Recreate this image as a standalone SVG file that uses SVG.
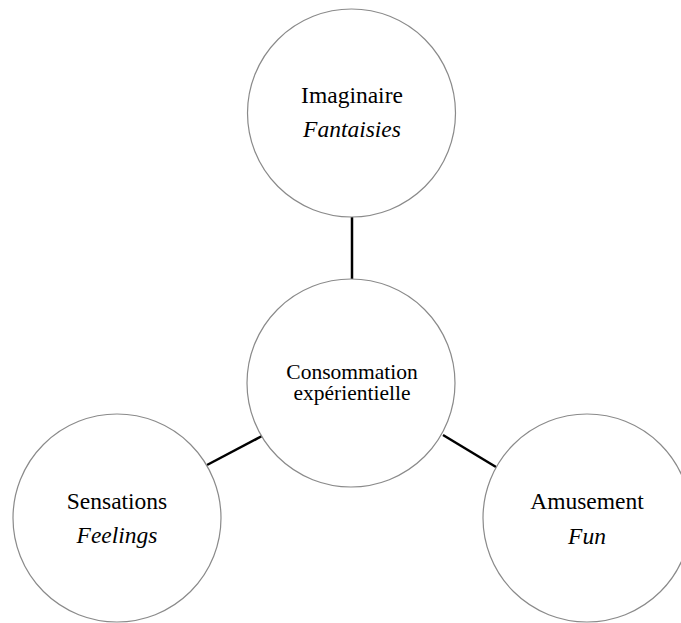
<svg xmlns="http://www.w3.org/2000/svg" width="681" height="623" viewBox="0 0 681 623">
<style>
.c{fill:#fff;stroke:#8a8a8a;stroke-width:1.2}
.t{font-family:"Liberation Serif","Times New Roman",serif;fill:#000;text-anchor:middle}
.b{font-size:23.5px}
.i{font-size:23.5px;font-style:italic}
.m{font-size:21.5px}
.l{stroke:#000;stroke-width:2.5;fill:none}
</style>
<rect width="681" height="623" fill="#fff"/>
<g id="connectors">
<line class="l" x1="352" y1="217" x2="352" y2="279"/>
<line class="l" x1="207" y1="465" x2="262" y2="436"/>
<line class="l" x1="443" y1="435" x2="496" y2="467"/>
</g>
<g id="imaginaire">
<circle class="c" cx="351.5" cy="113" r="104"/>
<text class="t b" x="352" y="103">Imaginaire</text>
<text class="t i" x="352" y="137">Fantaisies</text>
</g>
<g id="consommation">
<circle class="c" cx="351" cy="383" r="104"/>
<text class="t m" x="352" y="379">Consommation</text>
<text class="t m" x="352" y="400">expérientielle</text>
</g>
<g id="sensations">
<circle class="c" cx="117" cy="518" r="104"/>
<text class="t b" x="117" y="509">Sensations</text>
<text class="t i" x="117" y="543">Feelings</text>
</g>
<g id="amusement">
<circle class="c" cx="587" cy="518" r="104"/>
<text class="t b" x="587" y="509">Amusement</text>
<text class="t i" x="587" y="544">Fun</text>
</g>
</svg>
